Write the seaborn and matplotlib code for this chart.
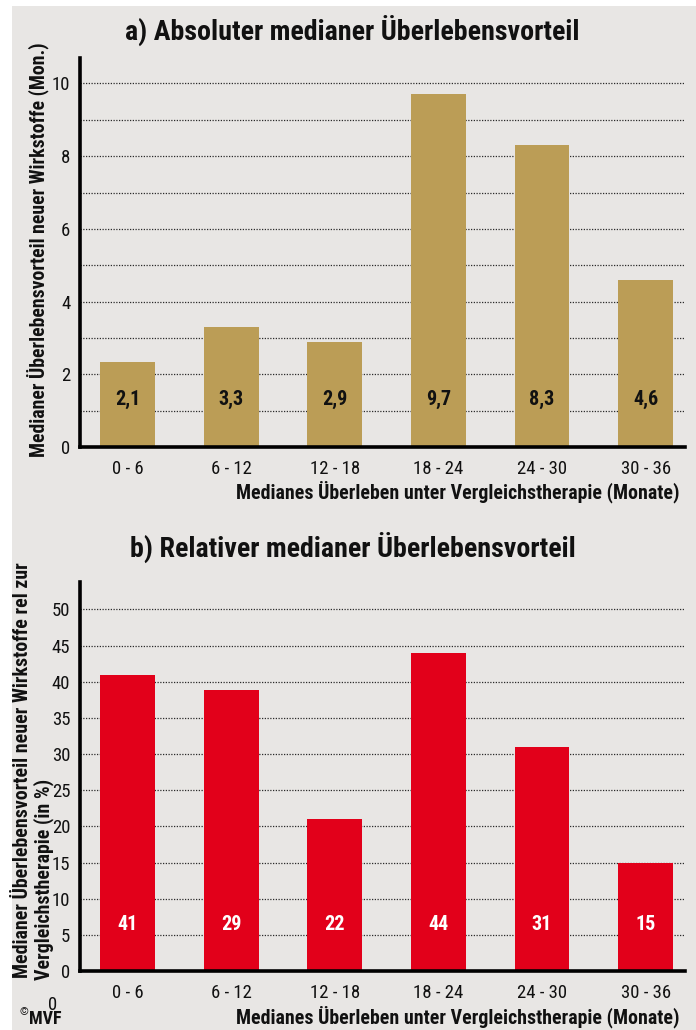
import matplotlib
matplotlib.use("Agg")
import numpy as np
import pandas as pd
import matplotlib.pyplot as plt
import seaborn as sns
from matplotlib import font_manager as fm
from matplotlib.patches import Rectangle

# ---------------- data ----------------
categories = ["0 - 6", "6 - 12", "12 - 18", "18 - 24", "24 - 30", "30 - 36"]
abs_values = [2.35, 3.3, 2.9, 9.7, 8.3, 4.6]
abs_labels = ["2,1", "3,3", "2,9", "9,7", "8,3", "4,6"]
rel_values = [41, 38.8, 21, 44, 31, 15]
rel_labels = ["41", "29", "22", "44", "31", "15"]
abs_yticks = [0, 2, 4, 6, 8, 10]
abs_grid = [1, 3, 5, 7, 9]
rel_yticks = [0, 5, 10, 15, 20, 25, 30, 35, 40, 45, 50]
rel_grid = []

title_a = "a) Absoluter medianer Überlebensvorteil"
title_b = "b) Relativer medianer Überlebensvorteil"
xlabel = "Medianes Überleben unter Vergleichstherapie (Monate)"
ylabel_a = "Medianer Überlebensvorteil neuer Wirkstoffe (Mon.)"
ylabel_b1 = "Medianer Überlebensvorteil neuer Wirkstoffe rel zur"
ylabel_b2 = "Vergleichstherapie (in %)"

# ---------------- style ----------------
sns.set_style("white")
names = {f.name for f in fm.fontManager.ttflist}
cands = ["Roboto Condensed", "DejaVu Sans Condensed", "Liberation Sans Narrow",
         "Open Sans Condensed", "Noto Sans Condensed", "Noto Sans Display Condensed"]
FONT = next((c for c in cands if c in names), None)
STRETCH = "normal"
if FONT is None:
    if any(f.name == "DejaVu Sans" and str(f.stretch).lower() in ("condensed", "semi-condensed") for f in fm.fontManager.ttflist):
        FONT, STRETCH = "DejaVu Sans", "condensed"
    elif "Roboto" in names:
        FONT = "Roboto"
    else:
        FONT = "DejaVu Sans"
plt.rcParams["font.family"] = [FONT, "DejaVu Sans"]
plt.rcParams["font.stretch"] = STRETCH

BG = "#e8e6e4"
GOLD = "#bb9d56"
RED = "#e2001a"
INK = "#111111"

W, H = 696, 1030
fig = plt.figure(figsize=(W / 100, H / 100), dpi=100, facecolor="white")
fig.patches.append(Rectangle((12 / W, 0), (W - 12) / W, (H - 6) / H, transform=fig.transFigure,
                             facecolor=BG, edgecolor="none", zorder=-10))


def ax_rect(left, top, right, bottom):
    return [left / W, 1 - bottom / H, (right - left) / W, (bottom - top) / H]


def ftext(x, y, s, **kw):
    return fig.text(x / W, 1 - y / H, s, color=kw.pop("color", INK), **kw)


axA = fig.add_axes(ax_rect(80, 58, 685, 447))
axB = fig.add_axes(ax_rect(80, 582, 685, 971))

panels = [
    (axA, abs_values, abs_labels, GOLD, INK, 10.7, abs_yticks, abs_grid, 1.3),
    (axB, rel_values, rel_labels, RED, "white", 53.8, rel_yticks, rel_grid, 6.5),
]
for ax, vals, labs, col, labcol, ytop, yt, yg, laby in panels:
    df = pd.DataFrame({"Zeitraum": categories, "Wert": vals})
    sns.barplot(data=df, x="Zeitraum", y="Wert", color=col, saturation=1, width=0.53,
                ax=ax, zorder=2, linewidth=0, edgecolor="none")
    ax.set_facecolor("none")
    ax.set_xlim(-0.458, 5.38)
    ax.set_ylim(0, ytop)
    ax.set_xlabel("")
    ax.set_ylabel("")
    for s in ["top", "right"]:
        ax.spines[s].set_visible(False)
    for s in ["left", "bottom"]:
        ax.spines[s].set_linewidth(2.6)
        ax.spines[s].set_color("black")
        ax.spines[s].set_zorder(5)
    ax.set_yticks(yt)
    ax.set_yticks(yg, minor=True)
    ax.tick_params(axis="both", which="both", length=0)
    ax.tick_params(axis="y", pad=7, labelsize=13.5, labelcolor=INK)
    ax.tick_params(axis="x", pad=9, labelsize=13.5, labelcolor=INK)
    ax.yaxis.grid(True, which="both", linestyle=(0, (1, 1.2)), color="#2a2a2a", linewidth=0.9)
    ax.set_axisbelow(True)
    for i, lab in enumerate(labs):
        ax.text(i, laby, lab, ha="center", va="center", fontweight="bold", fontsize=14.5,
                color=labcol, zorder=6)

tA = ftext(352, 30, title_a, ha="center", va="center", fontweight="bold", fontsize=16)
tB = ftext(353, 547, title_b, ha="center", va="center", fontweight="bold", fontsize=16)
xA = ftext(680, 492, xlabel, ha="right", va="center", fontweight="bold", fontsize=12)
xB = ftext(680, 1017, xlabel, ha="right", va="center", fontweight="bold", fontsize=12)
yA = ftext(38, 457, ylabel_a, rotation=90, rotation_mode="anchor", ha="left", va="center",
           fontweight="bold", fontsize=12)
yB1 = ftext(22, 978, ylabel_b1, rotation=90, rotation_mode="anchor", ha="left", va="center",
            fontweight="bold", fontsize=12)
yB2 = ftext(44, 980, ylabel_b2, rotation=90, rotation_mode="anchor", ha="left", va="center",
            fontweight="bold", fontsize=12)
ftext(53, 1005, "0", ha="center", va="center", fontsize=13.5)
ftext(20, 1012, "©", ha="left", va="center", fontsize=8)
ftext(29, 1019, "MVF", ha="left", va="center", fontweight="bold", fontsize=13)

# fit text lengths to the reference
fig.canvas.draw()
r = fig.canvas.get_renderer()
for t, target in [(tA, 455), (tB, 446), (xA, 443), (xB, 443), (yA, 415), (yB1, 415)]:
    bb = t.get_window_extent(r)
    length = max(bb.width, bb.height)
    t.set_fontsize(t.get_fontsize() * target / length)
yB2.set_fontsize(yB1.get_fontsize())

fig.savefig("out.png", dpi=100, facecolor="white")
